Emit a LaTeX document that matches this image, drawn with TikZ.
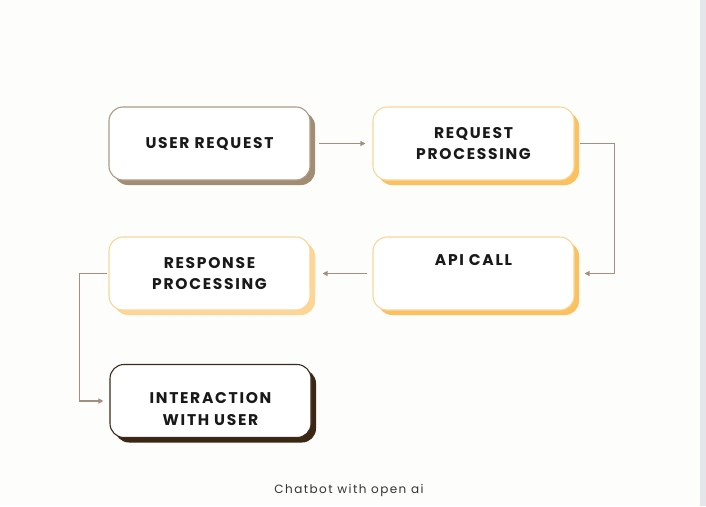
\documentclass[tikz,border=0pt]{standalone}
\usepackage{fontspec}
\usepackage{tikz}
\usetikzlibrary{arrows.meta,shadows}
\newfontfamily\boxfont[LetterSpace=11]{Poppins}
\newfontfamily\capfont[LetterSpace=12]{Poppins}
\definecolor{paper}{HTML}{FDFDFC}
\definecolor{strip}{HTML}{E4E6EA}
\definecolor{arrowtan}{HTML}{A38F7D}
\definecolor{tanline}{HTML}{AD9A86}
\definecolor{tanshade}{HTML}{A28D73}
\definecolor{amberline}{HTML}{F9D79A}
\definecolor{ambershade}{HTML}{FBC15F}
\definecolor{amberlight}{HTML}{FDD595}
\definecolor{darkline}{HTML}{3C2B1C}
\definecolor{darkshade}{HTML}{3B2714}

\begin{document}
\begin{tikzpicture}[x=1pt,y=-1pt,
	box/.style={rectangle,rounded corners=14pt,draw,line width=1.1pt,fill=white,minimum width=201pt,minimum height=73pt,align=center,text=black!90,font=\boxfont\bfseries\fontsize{15.5}{21.5}\selectfont},
	shade/.style={drop shadow={shadow xshift=5pt,shadow yshift=-5pt,fill=#1,opacity=1}},
	link/.style={arrowtan,line width=1.4pt,-{Triangle[length=5pt,width=5pt]}}]
	\fill[paper] (0,0) rectangle (706,506);
	\fill[strip] (700,0) rectangle (706,506);
	
	\node[box,draw=tanline,shade=tanshade] (req) at (209.5,143.5) {USER REQUEST};%1
	\node[box,draw=amberline,shade=ambershade] (proc) at (473.5,143.5) {REQUEST\\PROCESSING};%2
	\node[box,draw=amberline,shade=ambershade] (api) at (473.5,273.5) {API CALL\\[5pt]};%3
	\node[box,draw=amberline,shade=amberlight] (resp) at (209.5,273.5) {RESPONSE\\PROCESSING};%4
	\node[box,draw=darkline,shade=darkshade] (user) at (210.5,401) {\mbox{}\\[5.5pt]INTERACTION\\WITH USER};%5
	
	\node[font=\capfont\fontsize{12}{14}\selectfont,text=black!80] (cap) at (349,490) {Chatbot with open ai};
	
	\draw[link,shorten <=8pt,shorten >=7pt] (req) -- (proc);
	\draw[link,shorten <=5pt,shorten >=10pt] (proc.east) -- ++(40,0) |- (api.east);
	\draw[link,shorten <=5pt,shorten >=12pt] (api) -- (resp);
	\draw[link,shorten <=1pt,shorten >=6pt] (resp.west) -- ++(-29,0) |- (user.west);
\end{tikzpicture}
\end{document}
